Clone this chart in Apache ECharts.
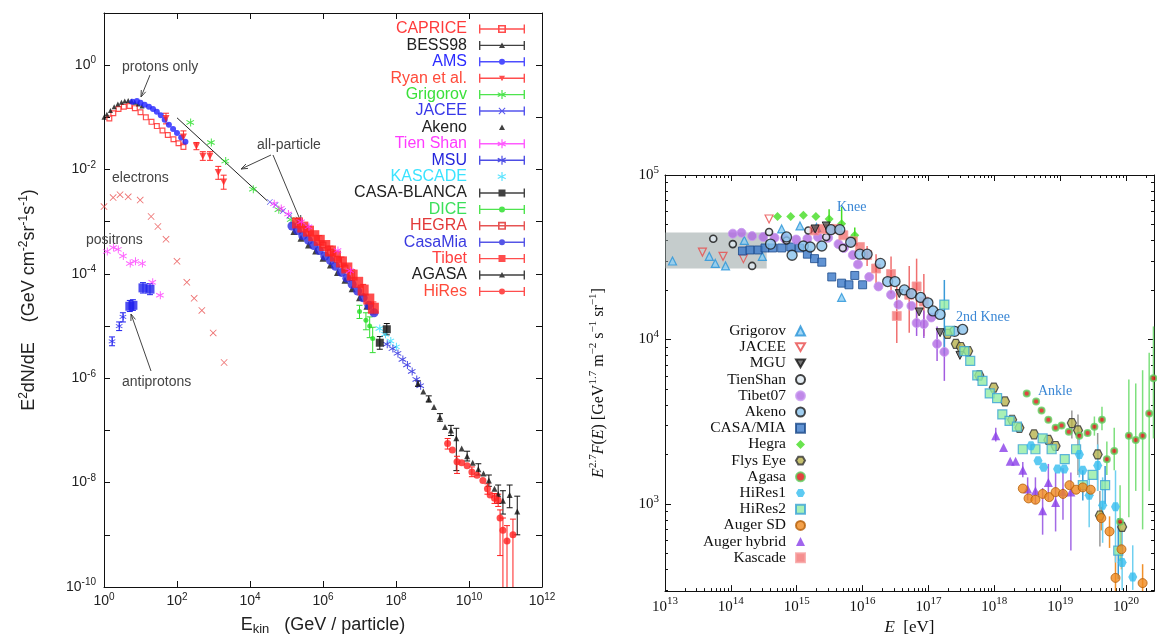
<!DOCTYPE html>
<html>
<head>
<meta charset="utf-8">
<title>Cosmic ray spectra</title>
<script src="https://cdn.jsdelivr.net/npm/echarts@6/dist/echarts.min.js"></script>
<style>
html, body { margin: 0; padding: 0; background: #fff; }
#main { width: 1157px; height: 641px; }
</style>
</head>
<body>
<div id="main"></div>
<script>
// ---- left panel: E^2 dN/dE [GeV cm^-2 sr^-1 s^-1] vs E_kin [GeV] ----
var caprice = [[1.4,0.095],[1.8,0.12],[2.5,0.145],[3.5,0.16],[5,0.165],[7,0.15],[10,0.125],[14,0.1],[20,0.082],[28,0.068],[40,0.056],[56,0.046],[80,0.038],[110,0.032],[150,0.027]];
var bess98 = [[1,0.1],[1.2,0.115],[1.5,0.135],[1.9,0.16],[2.4,0.18],[3,0.195],[3.7,0.205],[4.6,0.21],[5.7,0.205],[7,0.195],[8.7,0.18],[11,0.165]];
var ams = [[6,0.2],[8,0.205],[10,0.19],[13,0.175],[17,0.16],[22,0.145],[28,0.128],[36,0.11],[46,0.09],[60,0.072],[78,0.06],[100,0.05],[130,0.041],[170,0.034]];
var ryan = [[50,0.095],[150,0.042],[340,0.028],[510,0.018],[800,0.018],[1350,0.0088],[1900,0.0058]];
var ryanErr = [[50,0.075,0.12],[150,0.032,0.055],[340,0.024,0.033],[510,0.015,0.022],[800,0.015,0.022],[1350,0.0065,0.0115],[1900,0.0042,0.0078]];
var grigorovL = [[230,0.08],[850,0.033],[2100,0.0145],[12000,0.0042],[60000,0.0017],[130000,0.0011]];
var jaceeL = [[3.5e4,0.0024],[5e4,0.0021],[8e4,0.0016],[1.2e5,0.0013],[2e5,0.001],[3.5e5,0.00078]];
var akenoL = [[1.6e5,6.5e-4],[2.5e5,4.8e-4],[4e5,3.6e-4],[6.3e5,2.75e-4],[1e6,2.0e-4],[1.6e6,1.48e-4],[2.5e6,1.07e-4],[4e6,7.6e-5],[6.3e6,5.2e-5],[1e7,3.5e-5],[1.6e7,2.4e-5]];
var tienShanL = [[4.5e4,0.0022],[7e4,0.0018],[1.1e5,0.0014],[2.5e5,0.001],[4e5,0.0008],[2.5e6,0.00028],[5.5e6,0.000115]];
var msu = [[5.6e7,4.5e-6],[8e7,3.7e-6],[1.1e8,3e-6],[1.5e8,2.3e-6],[2e8,1.8e-6],[2.7e8,1.35e-6],[3.6e8,9.5e-7],[4.6e8,7.2e-7]];
var kascadeL = [[3.5e7,9e-6],[5e7,7e-6],[7e7,5.2e-6],[1e8,4e-6]];
var casaBlanca = [[3.6e7,4.8e-6],[5.6e7,8.7e-6]];
var casaBlancaErr = [[3.6e7,3.6e-6,6.3e-6],[5.6e7,6.8e-6,1.12e-5]];
var dice = [[1e7,1.9e-5],[1.5e7,1.3e-5],[1.9e7,1e-5],[2.3e7,5.8e-6]];
var diceErr = [[1e7,1.4e-5,2.5e-5],[1.5e7,8.5e-6,1.8e-5],[1.9e7,6e-6,1.5e-5],[2.3e7,3.1e-6,9.5e-6]];
var hegraL = [[1e6,3.6e-4],[1.6e6,2.6e-4],[2.5e6,1.9e-4],[4e6,1.3e-4],[6e6,9.5e-5]];
var casaMia = [[1.41e5,8.3e-4],[2e5,6.8e-4],[2.8e5,5.4e-4],[4e5,4.4e-4],[5.6e5,3.5e-4],[7.9e5,2.8e-4],[1.12e6,2.2e-4],[1.6e6,1.8e-4],[2.2e6,1.4e-4],[3.2e6,1.07e-4],[4.5e6,8.3e-5],[6.3e6,6.3e-5],[8.9e6,4.7e-5],[1.26e7,3.5e-5],[1.8e7,2.5e-5],[2.5e7,1.8e-5]];
var tibet = [[2e5,9.5e-4],[2.8e5,7.9e-4],[4e5,6.6e-4],[5.6e5,5.4e-4],[7.9e5,4.4e-4],[1.12e6,3.5e-4],[1.6e6,2.75e-4],[2.2e6,2.2e-4],[3.2e6,1.7e-4],[4.5e6,1.3e-4],[6.3e6,9.5e-5],[8.9e6,6.9e-5],[1.26e7,4.9e-5],[1.8e7,3.3e-5],[2.4e7,2.2e-5]];
var tibetErr = [[2e5,8e-4,1.15e-3],[4e5,5.5e-4,8e-4],[7.9e5,3.6e-4,5.4e-4],[1.6e6,2.2e-4,3.4e-4],[3.2e6,1.35e-4,2.1e-4],[6.3e6,7.5e-5,1.2e-4],[1.26e7,3.8e-5,6.3e-5],[2.4e7,1.7e-5,2.9e-5]];
var agasaL = [[4e8,7.9e-7],[5.6e8,5.6e-7],[7.9e8,4e-7],[1.1e9,2.8e-7],[1.6e9,1.8e-7],[2.2e9,1.17e-7],[3.2e9,1e-7],[4.5e9,7.1e-8],[6.3e9,4.5e-8],[8.9e9,3.2e-8],[1.26e10,2.4e-8],[1.8e10,1.8e-8],[2.5e10,1.5e-8],[3.5e10,1.1e-8],[5e10,7.6e-9],[6.3e10,6e-9],[8.5e10,4.5e-9],[1.3e11,5.8e-9],[2.1e11,2.8e-9]];
var agasaLErr = [[4e8,7e-7,8.9e-7],[7.9e8,3.5e-7,4.6e-7],[1.6e9,1.5e-7,2.1e-7],[3.2e9,8e-8,1.25e-7],[4.5e9,1.7e-8,1.1e-7],[8.9e9,2.6e-8,4e-8],[1.8e10,1.4e-8,2.3e-8],[3.5e10,8.5e-9,1.4e-8],[6.3e10,4e-9,9e-9],[8.5e10,2.5e-9,7e-9],[1.3e11,3.3e-9,9e-9],[2.1e11,1e-9,5.5e-9]];
var hiresL = [[2.6e9,5.6e-8],[3.5e9,4.2e-8],[4.7e9,2.5e-8],[6.3e9,2.4e-8],[8.9e9,2.1e-8],[1.2e10,1.6e-8],[1.66e10,1.38e-8],[2.4e10,1.1e-8],[3.2e10,7.6e-9],[3.8e10,5.8e-9],[5e10,5e-9],[6.3e10,4.6e-9],[7.1e10,2.1e-9],[8.5e10,1.23e-9],[1.1e11,7.6e-10],[1.6e11,1e-9]];
var hiresLErr = [[2.6e9,4.4e-8,7e-8],[4.7e9,1.5e-8,3.2e-8],[1.2e10,1.3e-8,2e-8],[3.2e10,6e-9,9.5e-9],[5e10,4e-9,6.2e-9],[6.3e10,3.5e-9,6e-9],[7.1e10,4e-10,3e-9],[8.5e10,1e-11,2.1e-9],[1.1e11,1e-11,1.5e-9],[1.6e11,1e-11,2e-9]];
var allParticleFit = [[100,0.098],[3e4,0.0025]];
var electrons = [[1,1.95e-3],[1.78,2.9e-3],[2.75,3.3e-3],[4.6,3.0e-3],[9.8,2.6e-3],[19.5,1.26e-3],[30,8.1e-4],[50,4.6e-4],[100,1.74e-4],[186,6.9e-5],[295,3.4e-5],[480,2.0e-5],[980,7.4e-6],[1950,2.0e-6]];
var positrons = [[1.2,2.7e-4],[1.78,3.2e-4],[2.4,2.95e-4],[3.3,2.2e-4],[5.1,1.58e-4],[7.1,1.74e-4],[11,1.58e-4],[21,6.9e-5],[34,3.9e-5]];
var antiprotonsLow = [[1.66,5.1e-6],[2.6,1.0e-5],[3.3,1.5e-5]];
var antiprotonsHigh = [[5.1,2.4e-5],[6.2,2.5e-5],[11.7,5.4e-5],[18.2,5.1e-5]];
var antiprotonsErr = [[1.66,4.2e-6,6.2e-6],[2.6,8.2e-6,1.2e-5],[3.3,1.2e-5,1.8e-5],[5.1,1.9e-5,3.1e-5],[6.2,2e-5,3.2e-5],[11.7,4.3e-5,6.8e-5],[18.2,4e-5,6.5e-5]];
var leftYTicks = [1e-10,1e-9,1e-8,1e-7,1e-6,1e-5,1e-4,1e-3,1e-2,1e-1,1,10];

// ---- right panel: E^2.7 F(E) vs E [eV] ----
var grigorovR = [[1.3e13,3.0e4],[4.7e13,3.2e4],[5.8e13,2.9e4],[8.3e13,2.8e4],[1.6e14,4.0e4],[3.0e14,3.2e4],[5.9e14,4.7e4],[1.12e15,4.9e4],[2.0e15,4.8e4],[4.8e15,1.8e4]];
var jaceeR = [[3.7e13,3.4e4],[7.6e13,3.2e4],[1.55e14,3.1e4],[3.8e14,5.4e4]];
var mgu = [[1.9e15,4.7e4],[2.8e15,4.9e4],[3.6e16,1.9e4],[7.2e16,1.47e4],[1.5e17,1.1e4],[3e17,8e3]];
var tienShanR = [[5.4e13,4.1e4],[1.07e14,3.8e4],[2.1e14,2.8e4],[3.8e14,4.5e4],[7e14,4.0e4],[1.5e15,4.6e4],[2.8e15,4.2e4],[5e15,3.6e4]];
var tibet07 = [[1.07e14,4.4e4],[1.45e14,4.45e4],[2.1e14,4.25e4],[3.1e14,4.2e4],[4.6e14,4.15e4],[6.6e14,4.1e4],[9.8e14,4.05e4],[1.45e15,4.1e4],[2.1e15,4.2e4],[3e15,4.15e4],[4.3e15,3.8e4],[5.2e15,3.6e4],[7.1e15,3.26e4],[8.5e15,2.86e4],[1.26e16,2.4e4],[1.74e16,2.1e4],[2.7e16,1.87e4],[3.5e16,1.63e4],[5.5e16,1.6e4],[6.6e16,1.26e4],[8.5e16,1.24e4],[1.1e17,1.36e4],[1.35e17,9.4e3],[1.74e17,8.4e3]];
var tibet07Err = [[6.6e16,1.05e4,1.5e4],[8.5e16,1.02e4,1.5e4],[1.35e17,7.4e3,1.2e4],[1.74e17,5.6e3,1.1e4]];
var akenoR = [[4e14,3.8e4],[7e14,4.2e4],[8.5e14,3.25e4],[1.26e15,3.7e4],[1.6e15,3.65e4],[2.4e15,3.7e4],[3.3e15,4.65e4],[4.5e15,4.65e4],[6.6e15,3.9e4],[9.1e15,3.3e4],[1.17e16,3.3e4],[1.86e16,2.9e4],[2.4e16,2.25e4],[3.1e16,2.25e4],[4.3e16,2.0e4],[5.5e16,1.9e4],[7.6e16,1.8e4],[9.8e16,1.67e4],[1.17e17,1.49e4],[1.5e17,1.42e4],[2.5e17,1.12e4],[3.3e17,1.15e4]];
var casaMiaR = [[1.5e14,3.45e4],[1.95e14,3.5e4],[2.6e14,3.5e4],[3.3e14,3.6e4],[4.3e14,3.6e4],[5.9e14,3.6e4],[8.1e14,3.65e4],[1.1e15,3.6e4],[1.45e15,3.3e4],[1.86e15,3.1e4],[2.4e15,2.95e4],[3.4e15,2.4e4],[4.8e15,2.2e4],[6.2e15,2.15e4],[7.6e15,2.45e4],[1e16,2.15e4]];
var hegraR = [[5.1e14,5.6e4],[8.1e14,5.6e4],[1.26e15,5.7e4],[1.95e15,5.6e4],[3.1e15,5.4e4],[4.8e15,5.05e4],[7.6e15,4.3e4]];
var hegraErr = [[3.1e15,4.8e4,6.2e4],[4.8e15,4.4e4,6.4e4],[7.6e15,3.9e4,4.8e4]];
var flysEye = [[1.95e17,1.08e4],[2.6e17,9.4e3],[3.1e17,9e3],[4e17,8.5e3],[5.9e17,6.05e3],[9.8e17,5.1e3],[1.45e18,4.2e3],[1.86e18,3.25e3],[2.4e18,2.9e3],[4e18,2.65e3],[6.6e18,2.45e3],[8.5e18,2.25e3],[1.5e19,3.1e3],[1.86e19,2.8e3],[3.7e19,2e3],[4e19,850],[8.7e19,725]];
var flysEyeErr = [[1.5e19,2.5e3,3.7e3],[1.86e19,1.5e3,3.5e3],[3.7e19,1.2e3,2.7e3],[4e19,550,1.2e3]];
var agasaR = [[3.1e18,4.7e3],[4.3e18,4.2e3],[5.2e18,3.7e3],[6.6e18,3.25e3],[8.5e18,2.9e3],[1.05e19,3.0e3],[1.35e19,2.75e3],[1.95e19,2.6e3],[2.6e19,2.7e3],[3.3e19,2.95e3],[4.3e19,3.25e3],[5.1e19,1.87e3],[6.6e19,2.1e3],[8.1e19,780],[1.1e20,2.6e3],[1.4e20,2.45e3],[1.78e20,2.6e3],[2.24e20,3.55e3],[2.6e20,5.8e3]];
var agasaRErr = [[3.3e19,2.6e3,3.4e3],[4.3e19,2.8e3,3.9e3],[5.1e19,1.5e3,2.4e3],[6.6e19,1.6e3,2.9e3],[8.1e19,450,1.3e3],[1.1e20,830,5.7e3],[1.4e20,1.2e3,5.4e3],[1.78e20,700,6.5e3],[2.24e20,1.2e3,8.3e3],[2.6e20,2.5e3,1.2e4]];
var hires1 = [[3.6e18,2.26e3],[4.6e18,1.83e3],[5.6e18,1.67e3],[9.1e18,1.63e3],[1.15e19,1.63e3],[1.95e19,2.0e3],[2.2e19,1.6e3],[2.75e19,1.13e3],[3.7e19,1.71e3],[4.4e19,980],[6.9e19,960],[8.7e19,440],[1.26e20,360]];
var hires1Err = [[1.95e19,1.45e3,2.6e3],[2.75e19,720,1.45e3],[3.7e19,1.2e3,2.3e3],[4.4e19,580,1.45e3],[6.9e19,440,1.6e3],[8.7e19,300,700],[1.26e20,300,560]];
var hires2 = [[1.74e17,1.63e4],[2.1e17,1.13e4],[3.5e17,8.5e3],[4.3e17,7.4e3],[5.5e17,6.05e3],[6.6e17,5.6e3],[8.5e17,4.7e3],[1.1e18,4.4e3],[1.32e18,3.5e3],[1.7e18,3.2e3],[2.2e18,2.95e3],[2.7e18,2.15e3],[4.2e18,2.15e3],[5.4e18,2.5e3],[7.4e18,2.15e3],[1.17e19,1.87e3],[1.74e19,2.15e3],[2.2e19,1.3e3],[3.1e19,1.5e3],[4.8e19,1.3e3],[7.6e19,520]];
var hires2Err = [[1.74e17,8.2e3,2.3e4],[2.2e19,1.05e3,1.6e3],[4.8e19,1.0e3,1.7e3],[7.6e19,350,820]];
var augerSD = [[2.7e18,1.24e3],[3.3e18,1.08e3],[4.2e18,1.06e3],[5.4e18,1.15e3],[6.8e18,1.1e3],[8.5e18,1.18e3],[1.1e19,1.15e3],[1.38e19,1.3e3],[1.74e19,1.22e3],[2.2e19,1.26e3],[2.9e19,1.22e3],[4.2e19,820],[5.6e19,680],[6.9e19,355],[8.5e19,530],[1.78e20,330]];
var augerSDErr = [[4.2e19,690,960],[5.6e19,540,840],[6.9e19,250,500],[8.5e19,400,700],[1.78e20,260,430]];
var augerHybrid = [[1.05e18,2.6e3],[1.38e18,2.2e3],[1.74e18,1.82e3],[2.1e18,1.82e3],[2.7e18,1.6e3],[3.2e18,1.23e3],[4.2e18,1.2e3],[5.4e18,910],[6.6e18,1.35e3],[8.5e18,1.02e3],[1.1e19,1.18e3],[1.45e19,1.18e3]];
var augerHybridErr = [[1.05e18,2.4e3,2.9e3],[2.7e18,1.45e3,1.8e3],[3.2e18,1.05e3,1.45e3],[4.2e18,1.0e3,1.45e3],[5.4e18,650,1.25e3],[6.6e18,1.05e3,1.75e3],[8.5e18,680,1.55e3],[1.1e19,800,1.65e3],[1.45e19,520,1.55e3]];
var kascadeR = [[1.86e15,4.6e4],[2.4e15,4.7e4],[3.1e15,4.7e4],[4e15,4.7e4],[5.1e15,4.3e4],[7.1e15,3.95e4],[9.1e15,3.65e4],[1.17e16,3.26e4],[1.6e16,2.7e4],[2.7e16,2.5e4],[3.3e16,1.39e4],[5.1e16,1.87e4],[6.6e16,2.1e4],[8.5e16,1.7e4]];
var kascadeRErr = [[1.17e16,2.8e4,3.7e4],[1.6e16,2.2e4,3.3e4],[2.7e16,1.9e4,3.2e4],[3.3e16,9.5e3,2.1e4],[5.1e16,1.1e4,2.8e4],[6.6e16,1.3e4,3.1e4],[8.5e16,1.05e4,2.5e4]];
var shadedBox = [[1e13,4.47e4],[3.5e14,2.7e4]];

var SANS = 'Liberation Sans, Arial, Helvetica, sans-serif';
var SERIF = 'Liberation Serif, Times New Roman, serif';

var SYM = {
    openSq: 'path://M0,0h10v10h-10z M2,2v6h6v-6z',
    star: 'path://M4.4,0h1.2v10h-1.2z M0.4,1.9 L9.2,7.0 L8.6,8.1 L-0.2,3.0z M-0.2,7.0 L8.6,1.9 L9.2,3.0 L0.4,8.1z',
    cross: 'path://M0,0.8 L0.8,0 L10,9.2 L9.2,10z M0,9.2 L9.2,0 L10,0.8 L0.8,10z',
    downTri: 'path://M0,0 L10,0 L5,8.7z',
    hex: 'path://M2.5,0 L7.5,0 L10,4.33 L7.5,8.66 L2.5,8.66 L0,4.33z'
};

// legend glyphs: |--marker--| drawn in a 46x10 box
var BAR = 'M0,4.3h46v1.4h-46z M0,0.5h1.4v9h-1.4z M44.6,0.5h1.4v9h-1.4z ';
var NOBAR = 'M0,0h0.01v0.01h-0.01z M45.99,9.99h0.01v0.01h-0.01z ';
var MK = {
    sq: 'M19.5,1.5h7v7h-7z',
    openSq: 'M19,1h8v8h-8z M20.6,2.6v4.8h4.8v-4.8z',
    tri: 'M23,2 L26,7.5 L20,7.5z',
    downTri: 'M20,2.5 L26,2.5 L23,8z',
    circ: 'M20,5a3,3 0 1,1 6,0a3,3 0 1,1 -6,0z',
    star: 'M22.4,0.5h1.2v9h-1.2z M19,2.6 L27,6.6 L26.5,7.7 L18.5,3.7z M18.5,6.3 L26.5,2.3 L27,3.4 L19,7.4z',
    cross: 'M19.5,2.2 L20.2,1.5 L26.5,7.8 L25.8,8.5z M19.5,7.8 L25.8,1.5 L26.5,2.2 L20.2,8.5z'
};
function icon(marker, bar) {
    return 'path://' + (bar ? BAR : NOBAR) + MK[marker];
}

function expOf(v) {
    return Math.log(v) / Math.LN10;
}
function powLabel(v) {
    var e = expOf(v);
    if (Math.abs(e - Math.round(e)) > 0.01) return '';
    return '10{s|' + Math.round(e) + '}';
}
function leftYLabel(v) {
    var e = Math.round(expOf(v));
    if (e > 0) return '';
    return '10{s|' + e + '}';
}

function dots(name, data, symbol, size, style, right) {
    return {
        type: 'scatter', name: name, data: data, symbol: symbol, symbolSize: size,
        xAxisIndex: right ? 2 : 0, yAxisIndex: right ? 2 : 0,
        itemStyle: style, silent: true, z: 3
    };
}

function errBars(data, color, cap, right, width) {
    return {
        type: 'custom', data: data, clip: true, silent: true, z: 2,
        xAxisIndex: right ? 2 : 0, yAxisIndex: right ? 2 : 0,
        encode: {x: 0, y: [1, 2]},
        renderItem: function (params, api) {
            var top = api.coord([api.value(0), api.value(2)]);
            var bot = api.coord([api.value(0), api.value(1)]);
            var st = {stroke: color, lineWidth: width || 1};
            var kids = [{type: 'line', shape: {x1: top[0], y1: top[1], x2: bot[0], y2: bot[1]}, style: st}];
            if (cap) {
                kids.push({type: 'line', shape: {x1: top[0] - 3, y1: top[1], x2: top[0] + 3, y2: top[1]}, style: st});
                kids.push({type: 'line', shape: {x1: bot[0] - 3, y1: bot[1], x2: bot[0] + 3, y2: bot[1]}, style: st});
            }
            return {type: 'group', children: kids};
        }
    };
}

function arrow(x1, y1, x2, y2) {
    var a = Math.atan2(y2 - y1, x2 - x1), h = 7, w = 0.35;
    return {
        type: 'group', z: 100, silent: true,
        children: [
            {type: 'line', shape: {x1: x1, y1: y1, x2: x2, y2: y2}, style: {stroke: '#444', lineWidth: 1}},
            {type: 'polyline', shape: {points: [
                [x2 - h * Math.cos(a - w), y2 - h * Math.sin(a - w)], [x2, y2],
                [x2 - h * Math.cos(a + w), y2 - h * Math.sin(a + w)]]},
                style: {stroke: '#444', fill: null, lineWidth: 1}}
        ]
    };
}
function note(x, y, text, font, color) {
    return {type: 'text', x: x, y: y, z: 100, silent: true,
        style: {text: text, font: font, fill: color, align: 'left', verticalAlign: 'middle'}};
}

var tickStyle = {color: '#111', width: 1};

var option = {
    animation: false,
    backgroundColor: '#fff',
    grid: [
        {left: 104, top: 13, width: 438, height: 576},
        {left: 665, top: 175, width: 490, height: 420}
    ],
    xAxis: [
        {
            gridIndex: 0, type: 'log', logBase: 100, min: 1, max: 1e12, position: 'bottom',
            axisLine: {lineStyle: tickStyle}, axisTick: {inside: true, length: 6, lineStyle: tickStyle},
            splitLine: {show: false},
            axisLabel: {margin: 5, formatter: powLabel, fontFamily: SANS, fontSize: 14, color: '#222',
                rich: {s: {fontFamily: SANS, fontSize: 10, color: '#222', padding: [0, 0, 9, 0]}}},
            name: 'E{sub|kin}   (GeV / particle)', nameLocation: 'middle', nameGap: 27,
            nameTextStyle: {fontFamily: SANS, fontSize: 18, color: '#222',
                rich: {sub: {fontFamily: SANS, fontSize: 13, color: '#222', padding: [9, 0, 0, 0]}}}
        },
        {
            gridIndex: 0, type: 'log', logBase: 100, min: 1, max: 1e12, position: 'top',
            axisLine: {lineStyle: tickStyle}, axisTick: {inside: true, length: 6, lineStyle: tickStyle},
            splitLine: {show: false}, axisLabel: {show: false}
        },
        {
            gridIndex: 1, type: 'log', min: 1e13, max: 2.65e20, position: 'bottom',
            axisLine: {lineStyle: tickStyle}, axisTick: {inside: true, length: 6, lineStyle: tickStyle},
            minorTick: {show: true, splitNumber: 9, length: 3, lineStyle: tickStyle},
            splitLine: {show: false},
            axisLabel: {margin: 5, formatter: powLabel, fontFamily: SERIF, fontSize: 15, color: '#111',
                rich: {s: {fontFamily: SERIF, fontSize: 11, color: '#111', padding: [0, 0, 10, 0]}}},
            name: '{i|E}  [eV]', nameLocation: 'middle', nameGap: 22,
            nameTextStyle: {fontFamily: SERIF, fontSize: 17, color: '#111',
                rich: {i: {fontFamily: SERIF, fontStyle: 'italic', fontSize: 17, color: '#111'}}}
        },
        {
            gridIndex: 1, type: 'log', min: 1e13, max: 2.65e20, position: 'top',
            axisLine: {lineStyle: tickStyle}, axisTick: {inside: true, length: 6, lineStyle: tickStyle},
            minorTick: {show: true, splitNumber: 9, length: 3, lineStyle: tickStyle},
            splitLine: {show: false}, axisLabel: {show: false}
        }
    ],
    yAxis: [
        {
            gridIndex: 0, type: 'log', logBase: 100, min: 1e-10, max: 10, position: 'left',
            axisLine: {lineStyle: tickStyle},
            axisTick: {inside: true, length: 6, lineStyle: tickStyle, customValues: leftYTicks},
            splitLine: {show: false},
            axisLabel: {margin: 8, formatter: leftYLabel, fontFamily: SANS, fontSize: 14, color: '#222',
                rich: {s: {fontFamily: SANS, fontSize: 10, color: '#222', padding: [0, 0, 9, 0]}}},
            name: 'E{sup|2}dN/dE    (GeV cm{sup|-2}sr{sup|-1}s{sup|-1})', nameLocation: 'middle', nameGap: 64,
            nameTextStyle: {fontFamily: SANS, fontSize: 18, color: '#222',
                rich: {sup: {fontFamily: SANS, fontSize: 12, color: '#222', padding: [0, 0, 10, 0]}}}
        },
        {
            gridIndex: 0, type: 'log', logBase: 100, min: 1e-10, max: 10, position: 'right',
            axisLine: {lineStyle: tickStyle},
            axisTick: {inside: true, length: 6, lineStyle: tickStyle, customValues: leftYTicks},
            splitLine: {show: false}, axisLabel: {show: false}
        },
        {
            gridIndex: 1, type: 'log', min: 295, max: 1e5, position: 'left',
            axisLine: {lineStyle: tickStyle}, axisTick: {inside: true, length: 6, lineStyle: tickStyle},
            minorTick: {show: true, splitNumber: 9, length: 3, lineStyle: tickStyle},
            splitLine: {show: false},
            axisLabel: {margin: 6, formatter: powLabel, fontFamily: SERIF, fontSize: 15, color: '#111',
                rich: {s: {fontFamily: SERIF, fontSize: 11, color: '#111', padding: [0, 0, 10, 0]}}},
            name: '{i|E}{s|2.7}{i|F}({i|E}) [GeV{s|1.7} m{s|\u22122} s{s|\u22121} sr{s|\u22121}]',
            nameLocation: 'middle', nameGap: 56,
            nameTextStyle: {fontFamily: SERIF, fontSize: 16, color: '#111',
                rich: {
                    i: {fontFamily: SERIF, fontStyle: 'italic', fontSize: 16, color: '#111'},
                    s: {fontFamily: SERIF, fontSize: 11, color: '#111', padding: [0, 0, 10, 0]}
                }}
        },
        {
            gridIndex: 1, type: 'log', min: 295, max: 1e5, position: 'right',
            axisLine: {lineStyle: tickStyle}, axisTick: {inside: true, length: 6, lineStyle: tickStyle},
            minorTick: {show: true, splitNumber: 9, length: 3, lineStyle: tickStyle},
            splitLine: {show: false}, axisLabel: {show: false}
        }
    ],
    legend: [
        {
            orient: 'vertical', right: 627, top: 16, align: 'right', selectedMode: false,
            itemWidth: 46, itemHeight: 10, itemGap: 0.4,
            textStyle: {fontFamily: SANS, fontSize: 16, lineHeight: 14, padding: [0, 7, 0, 0]},
            data: [
                {name: 'CAPRICE', icon: icon('openSq', true), textStyle: {color: '#ff3b3b'}},
                {name: 'BESS98', icon: icon('tri', true), textStyle: {color: '#222'}},
                {name: 'AMS', icon: icon('circ', true), textStyle: {color: '#2b2bff'}},
                {name: 'Ryan et al.', icon: icon('downTri', true), textStyle: {color: '#ff4a3a'}},
                {name: 'Grigorov', icon: icon('star', true), textStyle: {color: '#3be03b'}},
                {name: 'JACEE', icon: icon('cross', true), textStyle: {color: '#3838e8'}},
                {name: 'Akeno', icon: icon('tri', false), textStyle: {color: '#222'}},
                {name: 'Tien Shan', icon: icon('star', true), textStyle: {color: '#ff3bff'}},
                {name: 'MSU', icon: icon('star', true), textStyle: {color: '#2424dc'}},
                {name: 'KASCADE', icon: icon('star', false), textStyle: {color: '#3be3ff'}},
                {name: 'CASA-BLANCA', icon: icon('sq', true), textStyle: {color: '#222'}},
                {name: 'DICE', icon: icon('circ', true), textStyle: {color: '#3be05a'}},
                {name: 'HEGRA', icon: icon('openSq', true), textStyle: {color: '#e23a3a'}},
                {name: 'CasaMia', icon: icon('circ', true), textStyle: {color: '#3a3ae0'}},
                {name: 'Tibet', icon: icon('sq', true), textStyle: {color: '#ff4040'}},
                {name: 'AGASA', icon: icon('tri', true), textStyle: {color: '#222'}},
                {name: 'HiRes', icon: icon('circ', true), textStyle: {color: '#ff4a3a'}}
            ]
        },
        {
            orient: 'vertical', right: 346, top: 318, align: 'right', selectedMode: false,
            itemWidth: 9, itemHeight: 9, itemGap: 0.2,
            textStyle: {fontFamily: SERIF, fontSize: 15.5, lineHeight: 14, color: '#111', padding: [0, 5, 0, 0]},
            data: ['Grigorov\u200b', 'JACEE\u200b', 'MGU', 'TienShan', 'Tibet07', 'Akeno\u200b', 'CASA/MIA',
                'Hegra', 'Flys Eye', 'Agasa', 'HiRes1', 'HiRes2', 'Auger SD', 'Auger hybrid', 'Kascade']
        }
    ],
    graphic: [
        note(122, 67, 'protons only', '14px ' + SANS, '#444'),
        note(257, 145, 'all-particle', '14px ' + SANS, '#444'),
        note(112, 178, 'electrons', '14px ' + SANS, '#444'),
        note(86, 240, 'positrons', '14px ' + SANS, '#444'),
        note(122, 382, 'antiprotons', '14px ' + SANS, '#444'),
        arrow(150, 75, 141, 97),
        arrow(271, 155, 241, 169),
        arrow(273, 155, 301, 222),
        arrow(151, 371, 131, 314),
        note(837, 207, 'Knee', '14px ' + SERIF, '#3a87d5'),
        note(956, 317, '2nd Knee', '14px ' + SERIF, '#3a87d5'),
        note(1038, 391, 'Ankle', '14px ' + SERIF, '#3a87d5')
    ],
    series: []
};

var S = option.series;
// left panel
S.push({type: 'line', name: 'all-particle fit', data: allParticleFit, showSymbol: false, silent: true,
    xAxisIndex: 0, yAxisIndex: 0, lineStyle: {color: '#222', width: 1}, z: 2});
S.push(errBars(ryanErr, '#ff2a2a', true));
S.push(errBars(diceErr, '#33dd33', true));
S.push(errBars(casaBlancaErr, '#111', true));
S.push(errBars(agasaLErr, '#111', true));
S.push(errBars(hiresLErr, '#ff2020', true));
S.push(errBars(antiprotonsErr, '#2020ee', true));
S.push(errBars(tibetErr, '#ff2020', true));
S.push(dots('electrons', electrons, SYM.cross, 7, {color: '#e84848'}));
S.push(dots('positrons', positrons, SYM.star, 8, {color: '#ff40ff'}));
S.push(dots('antiprotons', antiprotonsLow, SYM.star, 7, {color: '#2020ee'}));
S.push(dots('antiprotons ', antiprotonsHigh, 'rect', 9, {color: '#2020ee'}));
S.push(dots('CAPRICE', caprice, SYM.openSq, 6, {color: '#ff2020'}));
S.push(dots('BESS98', bess98, 'triangle', 5, {color: '#111'}));
S.push(dots('AMS', ams, 'circle', 6, {color: '#2020ff'}));
S.push(dots('Ryan et al.', ryan, SYM.downTri, 7, {color: '#ff2020'}));
S.push(dots('Grigorov', grigorovL, SYM.star, 8, {color: '#22dd22'}));
S.push(dots('JACEE', jaceeL, SYM.cross, 6, {color: '#2b2be8'}));
S.push(dots('Akeno', akenoL, 'triangle', 7, {color: '#111'}));
S.push(dots('CasaMia', casaMia, 'circle', 9, {color: '#2a2ae0'}));
S.push(dots('HEGRA', hegraL, SYM.openSq, 7, {color: '#e02828'}));
S.push(dots('Tibet', tibet, 'rect', 11, {color: '#ff2020'}));
S.push(dots('Tien Shan', tienShanL, SYM.star, 8, {color: '#ff33ff'}));
S.push(dots('DICE', dice, 'circle', 5, {color: '#22dd22'}));
S.push(dots('KASCADE', kascadeL, SYM.star, 8, {color: '#33ddff'}));
S.push(dots('MSU', msu, SYM.star, 8, {color: '#2020dd'}));
S.push(dots('CASA-BLANCA', casaBlanca, 'rect', 8, {color: '#111'}));
S.push(dots('AGASA', agasaL, 'triangle', 6, {color: '#111'}));
S.push(dots('HiRes', hiresL, 'circle', 7, {color: '#ff2020'}));

// right panel
S.push({type: 'scatter', name: 'shade', data: [], xAxisIndex: 2, yAxisIndex: 2, silent: true, z: 1,
    markArea: {silent: true, itemStyle: {color: 'rgba(150,162,162,0.55)'},
        data: [[{coord: shadedBox[0]}, {coord: shadedBox[1]}]]}});
S.push(errBars(hegraErr, '#44dd22', false, true, 1.5));
S.push(errBars(kascadeRErr, '#f07070', false, true, 1.5));
S.push(errBars(tibet07Err, '#a35ce0', false, true, 1.5));
S.push(errBars(flysEyeErr, '#999', false, true, 1.5));
S.push(errBars(hires2Err, '#3a9ad8', false, true, 1.5));
S.push(errBars(augerHybridErr, '#a36ae6', false, true, 1.5));
S.push(errBars(augerSDErr, '#f0902a', false, true, 1.5));
S.push(errBars(hires1Err, '#6fd0f0', false, true, 1.5));
S.push(errBars(agasaRErr, '#7ee07e', false, true, 1.5));
S.push(dots('Grigorov\u200b', grigorovR, 'triangle', 8, {color: '#8ccdf2', borderColor: '#2894d8', borderWidth: 1.2}, true));
S.push(dots('JACEE\u200b', jaceeR, SYM.downTri, 8, {color: 'rgba(255,255,255,0)', borderColor: '#e84a4a', borderWidth: 1.2}, true));
S.push(dots('CASA/MIA', casaMiaR, 'rect', 8, {color: '#3a78c8', borderColor: '#1c4a8a', borderWidth: 1}, true));
S.push(dots('Tibet07', tibet07, 'circle', 9, {color: '#b06ae2', borderColor: '#c89af0', borderWidth: 1}, true));
S.push(dots('TienShan', tienShanR, 'circle', 7, {color: '#dfe8f0', borderColor: '#111', borderWidth: 1.6}, true));
S.push(dots('Hegra', hegraR, 'diamond', 9, {color: '#44dd22'}, true));
S.push(dots('Kascade', kascadeR, 'rect', 9, {color: 'rgba(240,80,80,0.8)', borderColor: '#f6a0a0', borderWidth: 1}, true));
S.push(dots('MGU', mgu, SYM.downTri, 8, {color: '#555', borderColor: '#111', borderWidth: 1}, true));
S.push(dots('Akeno\u200b', akenoR, 'circle', 10, {color: '#88c2ec', borderColor: '#1a1a1a', borderWidth: 1.3}, true));
S.push(dots('Flys Eye', flysEye, SYM.hex, 9, {color: '#b8b24c', borderColor: '#333', borderWidth: 1.2}, true));
S.push(dots('HiRes2', hires2, 'rect', 9, {color: '#94eca4', borderColor: '#3aa2d6', borderWidth: 1.2}, true));
S.push(dots('HiRes1', hires1, SYM.hex, 9, {color: '#35bdef'}, true));
S.push(dots('Auger hybrid', augerHybrid, 'triangle', 9, {color: '#8a3ee8'}, true));
S.push(dots('Auger SD', augerSD, 'circle', 9, {color: '#f08a1e', borderColor: '#b45e08', borderWidth: 1}, true));
S.push(dots('Agasa', agasaR, 'circle', 6, {color: '#dd1111', borderColor: '#5fcf5f', borderWidth: 2}, true));

var myChart = echarts.init(document.getElementById('main'), null, {renderer: 'canvas'});
myChart.setOption(option);
</script>
</body>
</html>
